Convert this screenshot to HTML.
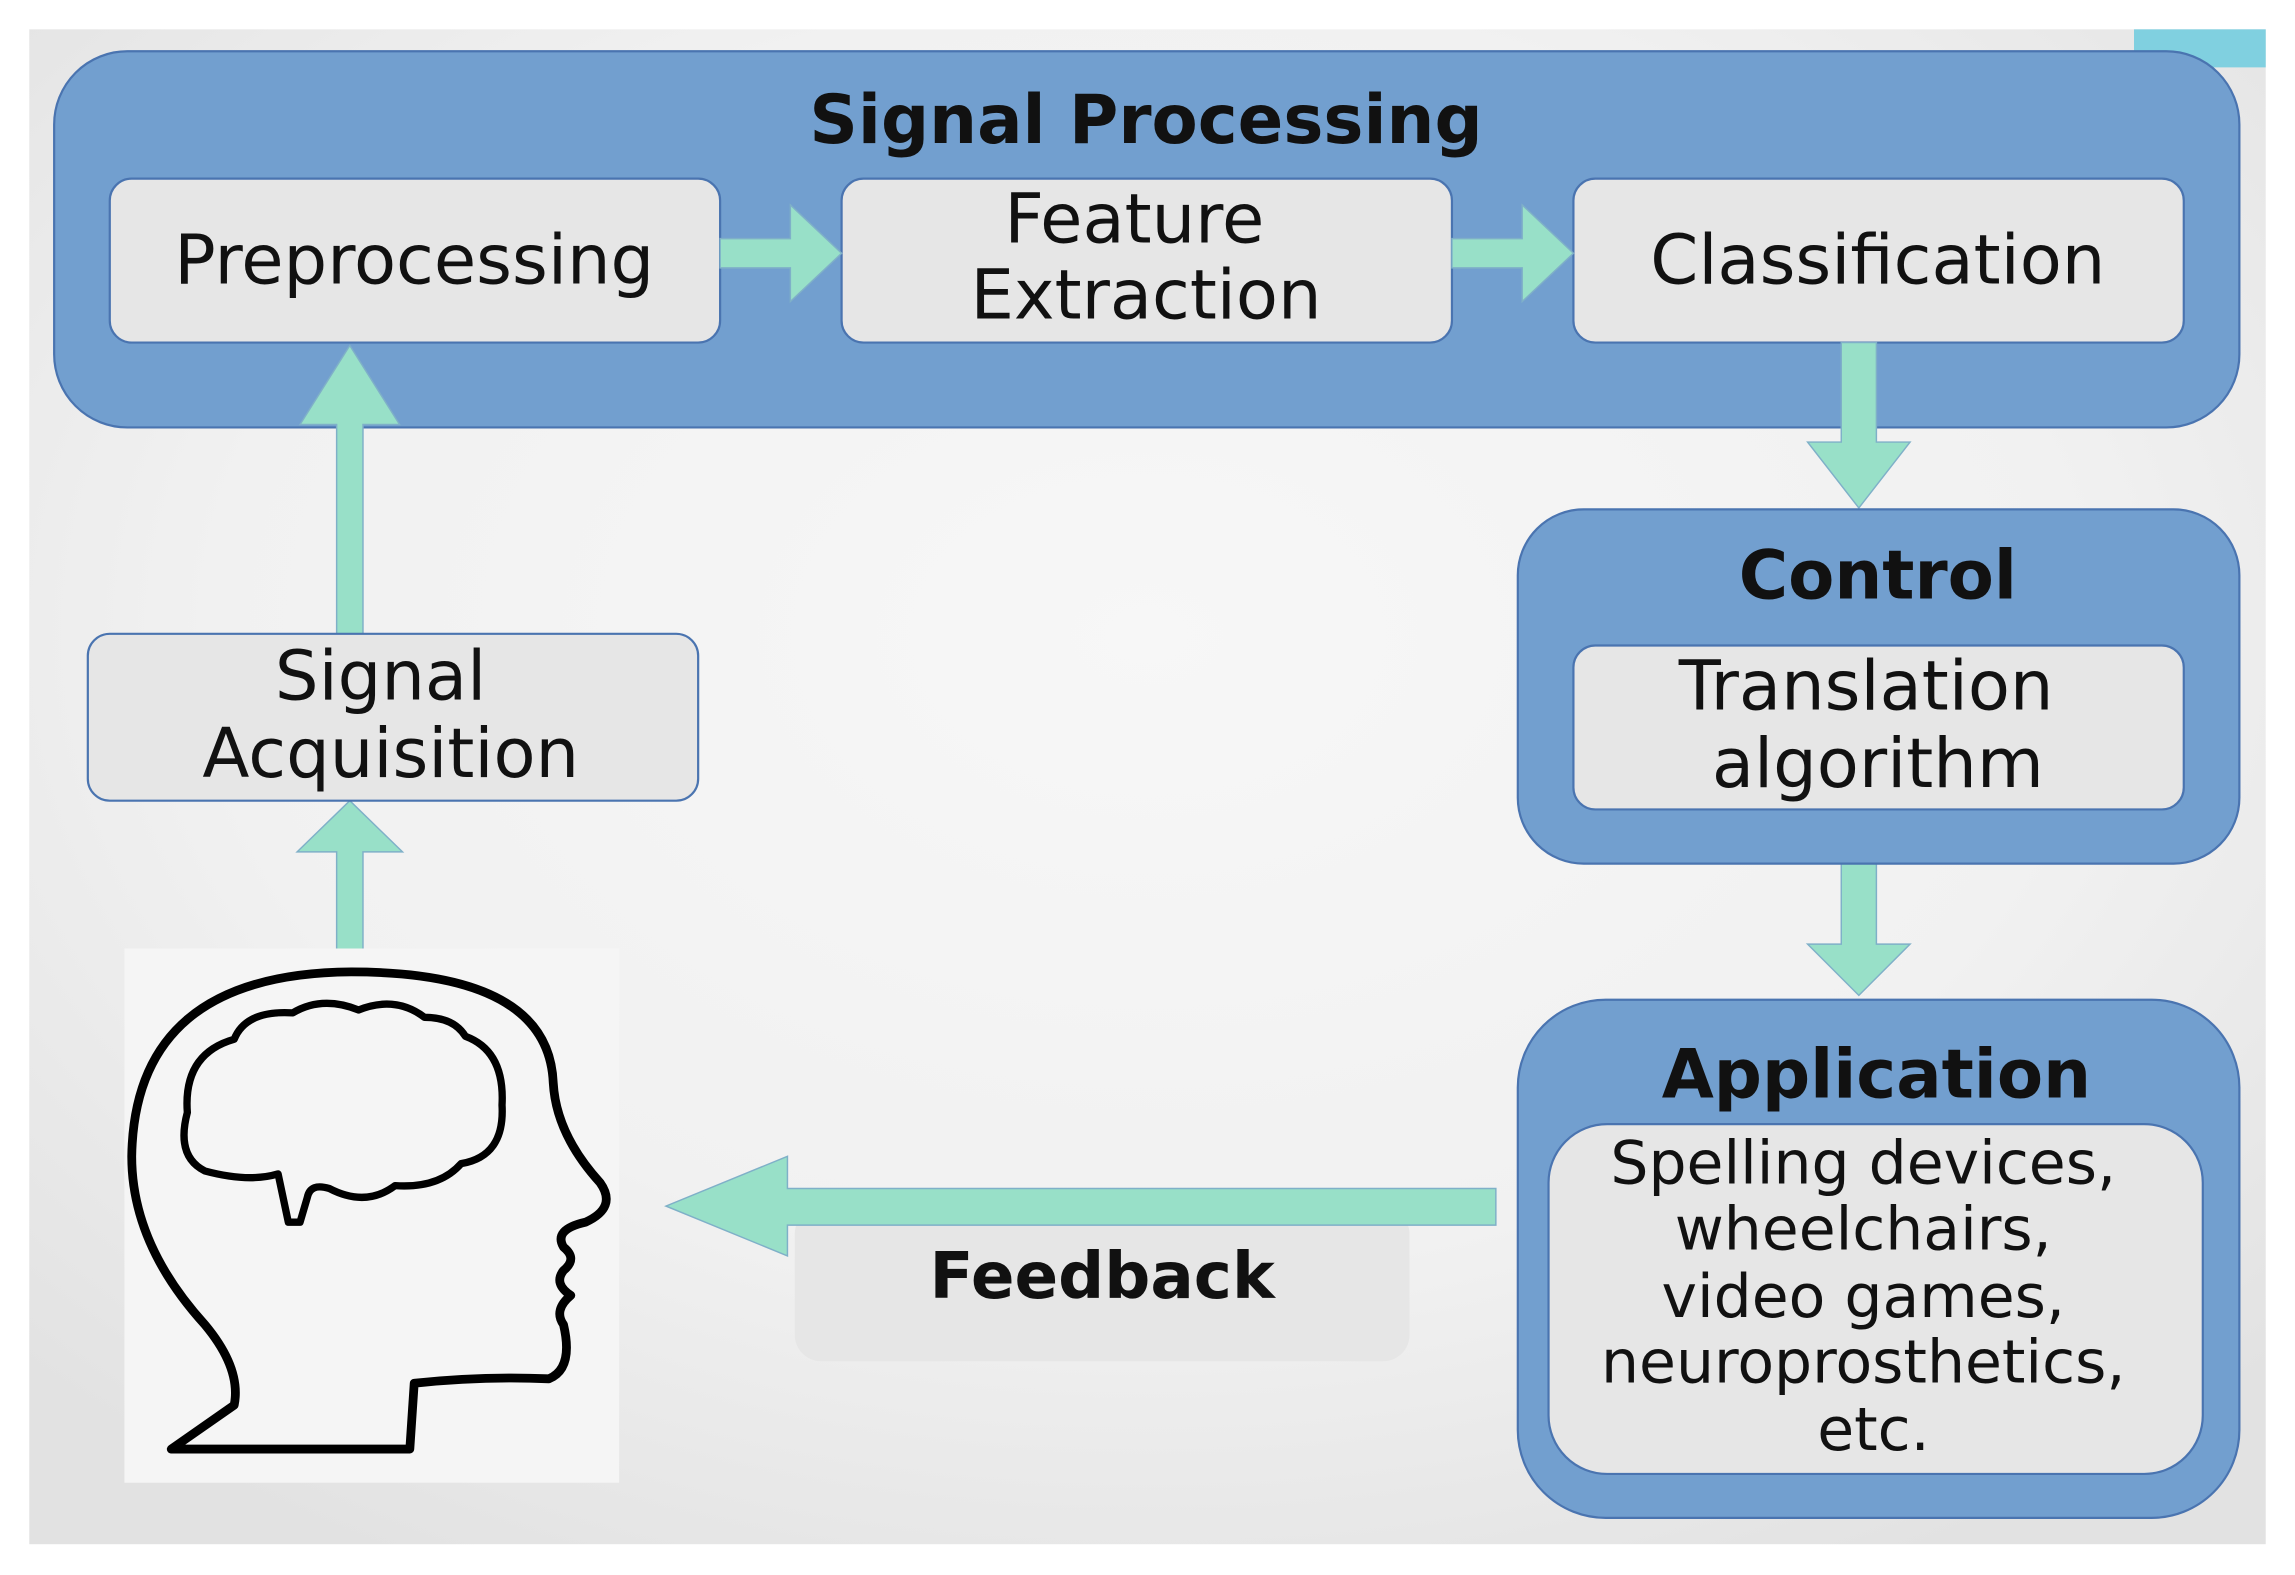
<!DOCTYPE html>
<html><head><meta charset="utf-8"><style>
html,body{margin:0;padding:0;background:#fff;}
svg{display:block;}
text{font-family:"DejaVu Sans","Liberation Sans",sans-serif;fill:#111;}
</style></head><body>
<svg width="2295" height="1575" viewBox="0 0 1568 1076" xmlns="http://www.w3.org/2000/svg">
<defs>
<radialGradient id="bg" cx="50%" cy="40%" r="70%">
<stop offset="0" stop-color="#f7f7f7"/><stop offset="0.6" stop-color="#f1f1f1"/><stop offset="1" stop-color="#e2e2e2"/>
</radialGradient>
</defs>
<rect x="0" y="0" width="1568" height="1076" fill="#fff"/>
<rect x="20" y="20" width="1528" height="1035" fill="url(#bg)"/>
<rect x="1458" y="20" width="90" height="26" fill="#80d0e0"/>

<rect x="37" y="35" width="1493" height="257" rx="50" fill="#729fcf" stroke="#4a74b0" stroke-width="1.5"/>
<text x="783" y="82" font-size="46" font-weight="bold" text-anchor="middle" dominant-baseline="central">Signal Processing</text>
<rect x="75" y="122" width="417" height="112" rx="15" fill="#e6e6e6" stroke="#4a74b0" stroke-width="1.5"/>
<text x="283" y="178" font-size="47" text-anchor="middle" dominant-baseline="central">Preprocessing</text>
<rect x="575" y="122" width="417" height="112" rx="15" fill="#e6e6e6" stroke="#4a74b0" stroke-width="1.5"/>
<text x="775" y="150" font-size="47" text-anchor="middle" dominant-baseline="central">Feature</text>
<text x="783" y="202" font-size="47" text-anchor="middle" dominant-baseline="central">Extraction</text>
<rect x="1075" y="122" width="417" height="112" rx="15" fill="#e6e6e6" stroke="#4a74b0" stroke-width="1.5"/>
<text x="1283" y="178" font-size="47" text-anchor="middle" dominant-baseline="central">Classification</text>

<g fill="#98e0c8" stroke="#7fb0c8" stroke-width="1">
<polygon points="492,163 540,163 540,140 575,173 540,206 540,183 492,183"/>
<polygon points="992,163 1040,163 1040,140 1075,173 1040,206 1040,183 992,183"/>
<polygon points="1258,234 1282,234 1282,302 1305,302 1270,347 1235,302 1258,302"/>
<polygon points="1258,590 1282,590 1282,645 1305,645 1270,680 1235,645 1258,645"/>
<polygon points="230,433 248,433 248,290 273,290 239,236 205,290 230,290"/>
<polygon points="230,660 248,660 248,582 275,582 239,547 203,582 230,582"/>
</g>

<rect x="1037" y="348" width="493" height="242" rx="45" fill="#729fcf" stroke="#4a74b0" stroke-width="1.5"/>
<text x="1283" y="393" font-size="46" font-weight="bold" text-anchor="middle" dominant-baseline="central">Control</text>
<rect x="1075" y="441" width="417" height="112" rx="15" fill="#e6e6e6" stroke="#4a74b0" stroke-width="1.5"/>
<text x="1275" y="469" font-size="47" text-anchor="middle" dominant-baseline="central">Translation</text>
<text x="1283" y="522" font-size="47" text-anchor="middle" dominant-baseline="central">algorithm</text>

<rect x="1037" y="683" width="493" height="354" rx="60" fill="#729fcf" stroke="#4a74b0" stroke-width="1.5"/>
<text x="1282" y="734" font-size="46" font-weight="bold" text-anchor="middle" dominant-baseline="central">Application</text>
<rect x="1058" y="768" width="447" height="239" rx="40" fill="#e6e6e6" stroke="#4a74b0" stroke-width="1.5"/>
<g font-size="41" text-anchor="middle">
<text x="1273" y="795" dominant-baseline="central">Spelling devices,</text>
<text x="1273" y="840" dominant-baseline="central">wheelchairs,</text>
<text x="1273" y="886" dominant-baseline="central">video games,</text>
<text x="1273" y="931" dominant-baseline="central">neuroprosthetics,</text>
<text x="1280" y="977" dominant-baseline="central">etc.</text>
</g>

<rect x="543" y="825" width="420" height="105" rx="18" fill="#e6e6e6"/>
<polygon points="1022,812 538,812 538,790 455,824 538,858 538,837 1022,837" fill="#98e0c8" stroke="#7fb0c8" stroke-width="1"/>
<text x="753" y="872" font-size="44" font-weight="bold" text-anchor="middle" dominant-baseline="central">Feedback</text>

<rect x="60" y="433" width="417" height="114" rx="15" fill="#e6e6e6" stroke="#4a74b0" stroke-width="1.5"/>
<text x="260" y="462" font-size="47" text-anchor="middle" dominant-baseline="central">Signal</text>
<text x="267" y="515" font-size="47" text-anchor="middle" dominant-baseline="central">Acquisition</text>

<rect x="85" y="648" width="338" height="365" fill="#f5f5f5"/>
<path d="M117,990 L280,990 L283,945 Q330,940 375,942 Q392,935 385,905 Q378,895 390,885 Q378,877 385,868 Q395,860 385,852 Q378,840 400,835 Q422,825 410,808 Q380,775 378,740 Q375,664 240,664 Q92,665 90,790 Q90,850 140,905 Q165,935 160,960 Z" fill="none" stroke="#000" stroke-width="6" stroke-linejoin="round"/>
<path d="M140,800 Q120,790 128,760 Q125,720 160,710 Q168,690 200,692 Q220,680 245,690 Q270,680 290,695 Q310,695 318,708 Q345,718 343,755 Q345,790 315,795 Q300,812 270,810 Q250,825 225,812 Q212,808 210,818 L205,835 L197,835 L190,802 Q170,808 140,800 Z" fill="none" stroke="#000" stroke-width="5" stroke-linejoin="round"/>
</svg>
</body></html>
